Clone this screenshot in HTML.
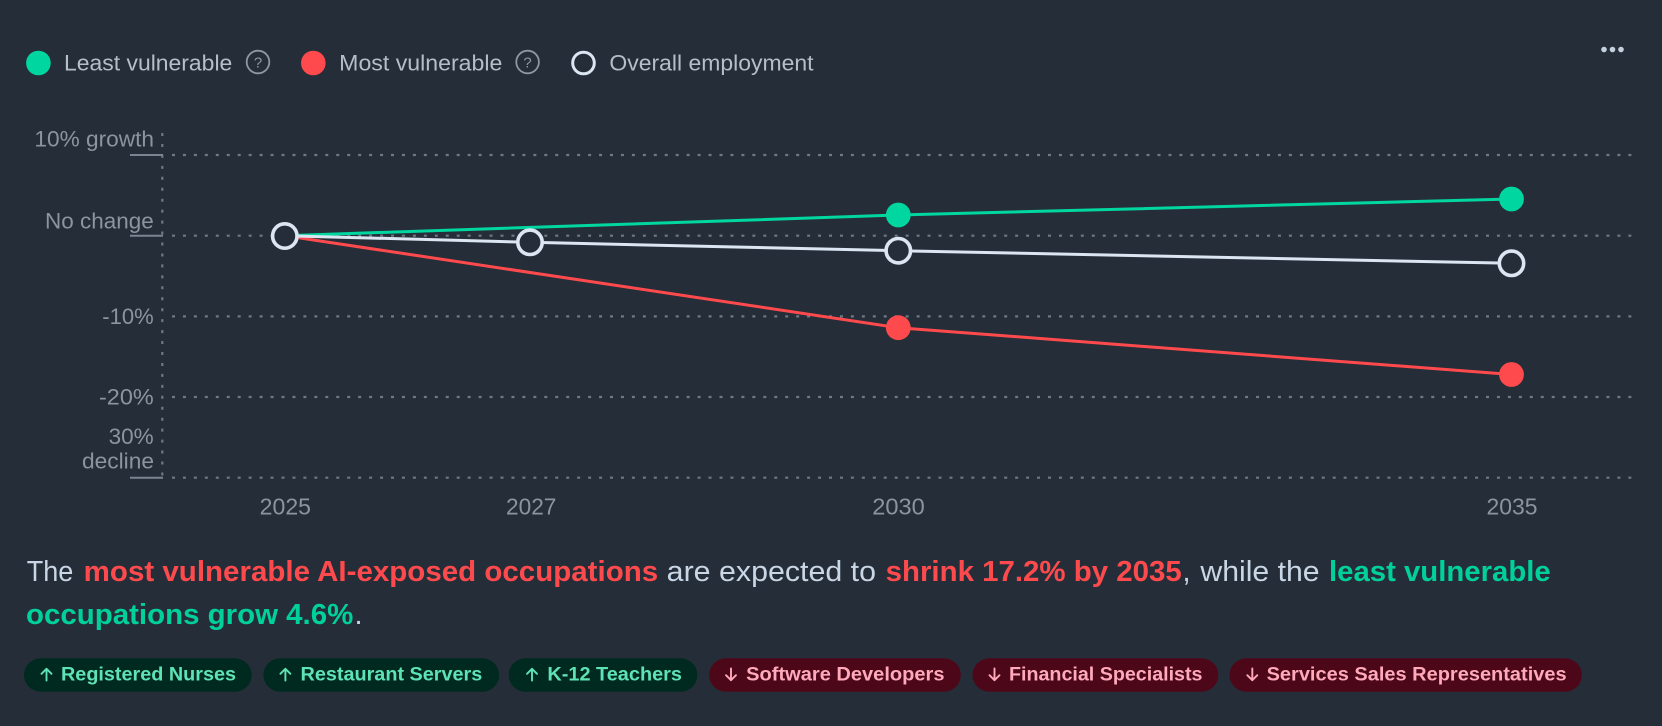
<!DOCTYPE html>
<html>
<head>
<meta charset="utf-8">
<style>
  html, body { margin:0; padding:0; background:#252e38; }
  body { width:1662px; height:726px; overflow:hidden; }
  svg { display:block; font-family:"Liberation Sans", "DejaVu Sans", sans-serif; }
</style>
</head>
<body>
<svg width="1662" height="726" viewBox="0 0 1662 726" xmlns="http://www.w3.org/2000/svg">
  <rect x="0" y="0" width="1662" height="726" fill="#252e38"/>

  <!-- Legend -->
  <circle cx="38.4" cy="63" r="12.3" fill="#00d6a0"/>
  <text x="64" y="70.7" font-size="22" fill="#b6bec9" textLength="168.3" lengthAdjust="spacingAndGlyphs">Least vulnerable</text>
  <circle cx="258" cy="62" r="11.3" fill="none" stroke="#8e97a2" stroke-width="1.8"/>
  <text x="258" y="67.5" font-size="15" fill="#8e97a2" text-anchor="middle">?</text>

  <circle cx="313.3" cy="63" r="12.3" fill="#ff4a4d"/>
  <text x="339.2" y="70.7" font-size="22" fill="#b6bec9" textLength="163.2" lengthAdjust="spacingAndGlyphs">Most vulnerable</text>
  <circle cx="527.6" cy="62" r="11.3" fill="none" stroke="#8e97a2" stroke-width="1.8"/>
  <text x="527.6" y="67.5" font-size="15" fill="#8e97a2" text-anchor="middle">?</text>

  <circle cx="583.5" cy="63" r="10.8" fill="#252e38" stroke="#dbe6f2" stroke-width="3"/>
  <text x="609.4" y="70.7" font-size="22" fill="#b6bec9" textLength="204.1" lengthAdjust="spacingAndGlyphs">Overall employment</text>

  <!-- More icon -->
  <circle cx="1604" cy="49.5" r="2.8" fill="#c5d0de"/>
  <circle cx="1612.5" cy="49.5" r="2.8" fill="#c5d0de"/>
  <circle cx="1621" cy="49.5" r="2.8" fill="#c5d0de"/>

  <!-- Grid -->
  <g stroke="#6f7883" stroke-width="2.2" stroke-dasharray="3 7.95" fill="none">
    <line x1="172" y1="155" x2="1635" y2="155"/>
    <line x1="172" y1="235.7" x2="1635" y2="235.7"/>
    <line x1="172" y1="316.4" x2="1635" y2="316.4"/>
    <line x1="172" y1="397" x2="1635" y2="397"/>
    <line x1="172" y1="477.7" x2="1635" y2="477.7"/>
    <line x1="162.3" y1="133" x2="162.3" y2="482"/>
  </g>
  <g stroke="#7b8490" stroke-width="2">
    <line x1="130" y1="155" x2="163" y2="155"/>
    <line x1="130" y1="235.7" x2="163" y2="235.7"/>
    <line x1="130" y1="477.7" x2="163" y2="477.7"/>
  </g>

  <!-- Y labels -->
  <g font-size="22" fill="#8b949f">
    <text x="34.4" y="146.7" textLength="119.6" lengthAdjust="spacingAndGlyphs">10% growth</text>
    <text x="45" y="228.3" textLength="108.7" lengthAdjust="spacingAndGlyphs">No change</text>
    <text x="102.3" y="324" textLength="51.4" lengthAdjust="spacingAndGlyphs">-10%</text>
    <text x="99" y="404.7" textLength="54.7" lengthAdjust="spacingAndGlyphs">-20%</text>
    <text x="108.6" y="444" textLength="45.1" lengthAdjust="spacingAndGlyphs">30%</text>
    <text x="82" y="468.7" textLength="72" lengthAdjust="spacingAndGlyphs">decline</text>
  </g>

  <!-- X labels -->
  <g font-size="23" fill="#8b949f">
    <text x="259.7" y="514.7" textLength="51.3" lengthAdjust="spacingAndGlyphs">2025</text>
    <text x="506" y="514.7" textLength="50.4" lengthAdjust="spacingAndGlyphs">2027</text>
    <text x="872.3" y="514.7" textLength="52.5" lengthAdjust="spacingAndGlyphs">2030</text>
    <text x="1486.5" y="514.7" textLength="51" lengthAdjust="spacingAndGlyphs">2035</text>
  </g>

  <!-- Series: least vulnerable -->
  <polyline points="284.6,235.7 898.3,215 1511.5,199" fill="none" stroke="#00d6a0" stroke-width="3" stroke-linejoin="round"/>
  <circle cx="898.3" cy="215" r="12.4" fill="#00d6a0"/>
  <circle cx="1511.5" cy="199" r="12.4" fill="#00d6a0"/>

  <!-- Series: most vulnerable -->
  <polyline points="284.6,235.7 898.3,327.7 1511.5,374.5" fill="none" stroke="#ff4a4d" stroke-width="3" stroke-linejoin="round"/>
  <circle cx="898.3" cy="327.7" r="12.4" fill="#ff4a4d"/>
  <circle cx="1511.5" cy="374.5" r="12.4" fill="#ff4a4d"/>

  <!-- Series: overall -->
  <polyline points="284.6,235.7 530,242.3 898.3,250.7 1511.5,263.3" fill="none" stroke="#dbe6f2" stroke-width="3" stroke-linejoin="round"/>
  <g fill="#252e38" stroke="#dbe6f2" stroke-width="3.6">
    <circle cx="284.8" cy="236" r="12.2"/>
    <circle cx="530" cy="242.3" r="12.2"/>
    <circle cx="898.3" cy="250.7" r="12.2"/>
    <circle cx="1511.5" cy="263.3" r="12.2"/>
  </g>

  <!-- Sentence -->
  <g font-size="29">
    <text x="26.7" y="581" fill="#c9d6e6" textLength="46.6" lengthAdjust="spacingAndGlyphs">The</text>
    <text x="83.7" y="581" fill="#ff4a4d" font-weight="bold" textLength="574.5" lengthAdjust="spacingAndGlyphs">most vulnerable AI-exposed occupations</text>
    <text x="666.7" y="581" fill="#c9d6e6" textLength="209.3" lengthAdjust="spacingAndGlyphs">are expected to</text>
    <text x="885.6" y="581" fill="#ff4a4d" font-weight="bold" textLength="296.2" lengthAdjust="spacingAndGlyphs">shrink 17.2% by 2035</text>
    <text x="1182.5" y="581" fill="#c9d6e6">,</text>
    <text x="1200.4" y="581" fill="#c9d6e6" textLength="119.2" lengthAdjust="spacingAndGlyphs">while the</text>
    <text x="1329" y="581" fill="#00d19c" font-weight="bold" textLength="221.7" lengthAdjust="spacingAndGlyphs">least vulnerable</text>
    <text x="26" y="624" fill="#00d19c" font-weight="bold" textLength="327.3" lengthAdjust="spacingAndGlyphs">occupations grow 4.6%</text>
    <text x="354.5" y="624" fill="#c9d6e6">.</text>
  </g>

  <!-- Pills -->
  <g>
    <rect x="24" y="658.3" width="227.7" height="33.4" rx="16.7" fill="#00291f"/>
    <rect x="263.4" y="658.3" width="235.8" height="33.4" rx="16.7" fill="#00291f"/>
    <rect x="508.7" y="658.3" width="188.7" height="33.4" rx="16.7" fill="#00291f"/>
    <rect x="709.1" y="658.3" width="251.7" height="33.4" rx="16.7" fill="#4c0719"/>
    <rect x="972.5" y="658.3" width="245.9" height="33.4" rx="16.7" fill="#4c0719"/>
    <rect x="1229.5" y="658.3" width="352.4" height="33.4" rx="16.7" fill="#4c0719"/>
  </g>
  <!-- arrows -->
  <g fill="none" stroke-width="1.9" stroke-linecap="round" stroke-linejoin="round">
    <path d="M46.5 680.5 V668.8 M41.5 673.8 L46.5 668.8 L51.5 673.8" stroke="#5ee3b5"/>
    <path d="M285.4 680.5 V668.8 M280.4 673.8 L285.4 668.8 L290.4 673.8" stroke="#5ee3b5"/>
    <path d="M532 680.5 V668.8 M527 673.8 L532 668.8 L537 673.8" stroke="#5ee3b5"/>
    <path d="M731 668.5 V680.2 M726 675.2 L731 680.2 L736 675.2" stroke="#ffa9ba"/>
    <path d="M994.5 668.5 V680.2 M989.5 675.2 L994.5 680.2 L999.5 675.2" stroke="#ffa9ba"/>
    <path d="M1252.3 668.5 V680.2 M1247.3 675.2 L1252.3 680.2 L1257.3 675.2" stroke="#ffa9ba"/>
  </g>
  <g font-size="19" font-weight="bold">
    <text x="61" y="680.7" fill="#5ee3b5" textLength="175" lengthAdjust="spacingAndGlyphs">Registered Nurses</text>
    <text x="300.5" y="680.7" fill="#5ee3b5" textLength="181.8" lengthAdjust="spacingAndGlyphs">Restaurant Servers</text>
    <text x="547.4" y="680.7" fill="#5ee3b5" textLength="134.6" lengthAdjust="spacingAndGlyphs">K-12 Teachers</text>
    <text x="746.2" y="680.7" fill="#ffa9ba" textLength="198.3" lengthAdjust="spacingAndGlyphs">Software Developers</text>
    <text x="1009" y="680.7" fill="#ffa9ba" textLength="193.5" lengthAdjust="spacingAndGlyphs">Financial Specialists</text>
    <text x="1266.6" y="680.7" fill="#ffa9ba" textLength="300" lengthAdjust="spacingAndGlyphs">Services Sales Representatives</text>
  </g>
</svg>
</body>
</html>
